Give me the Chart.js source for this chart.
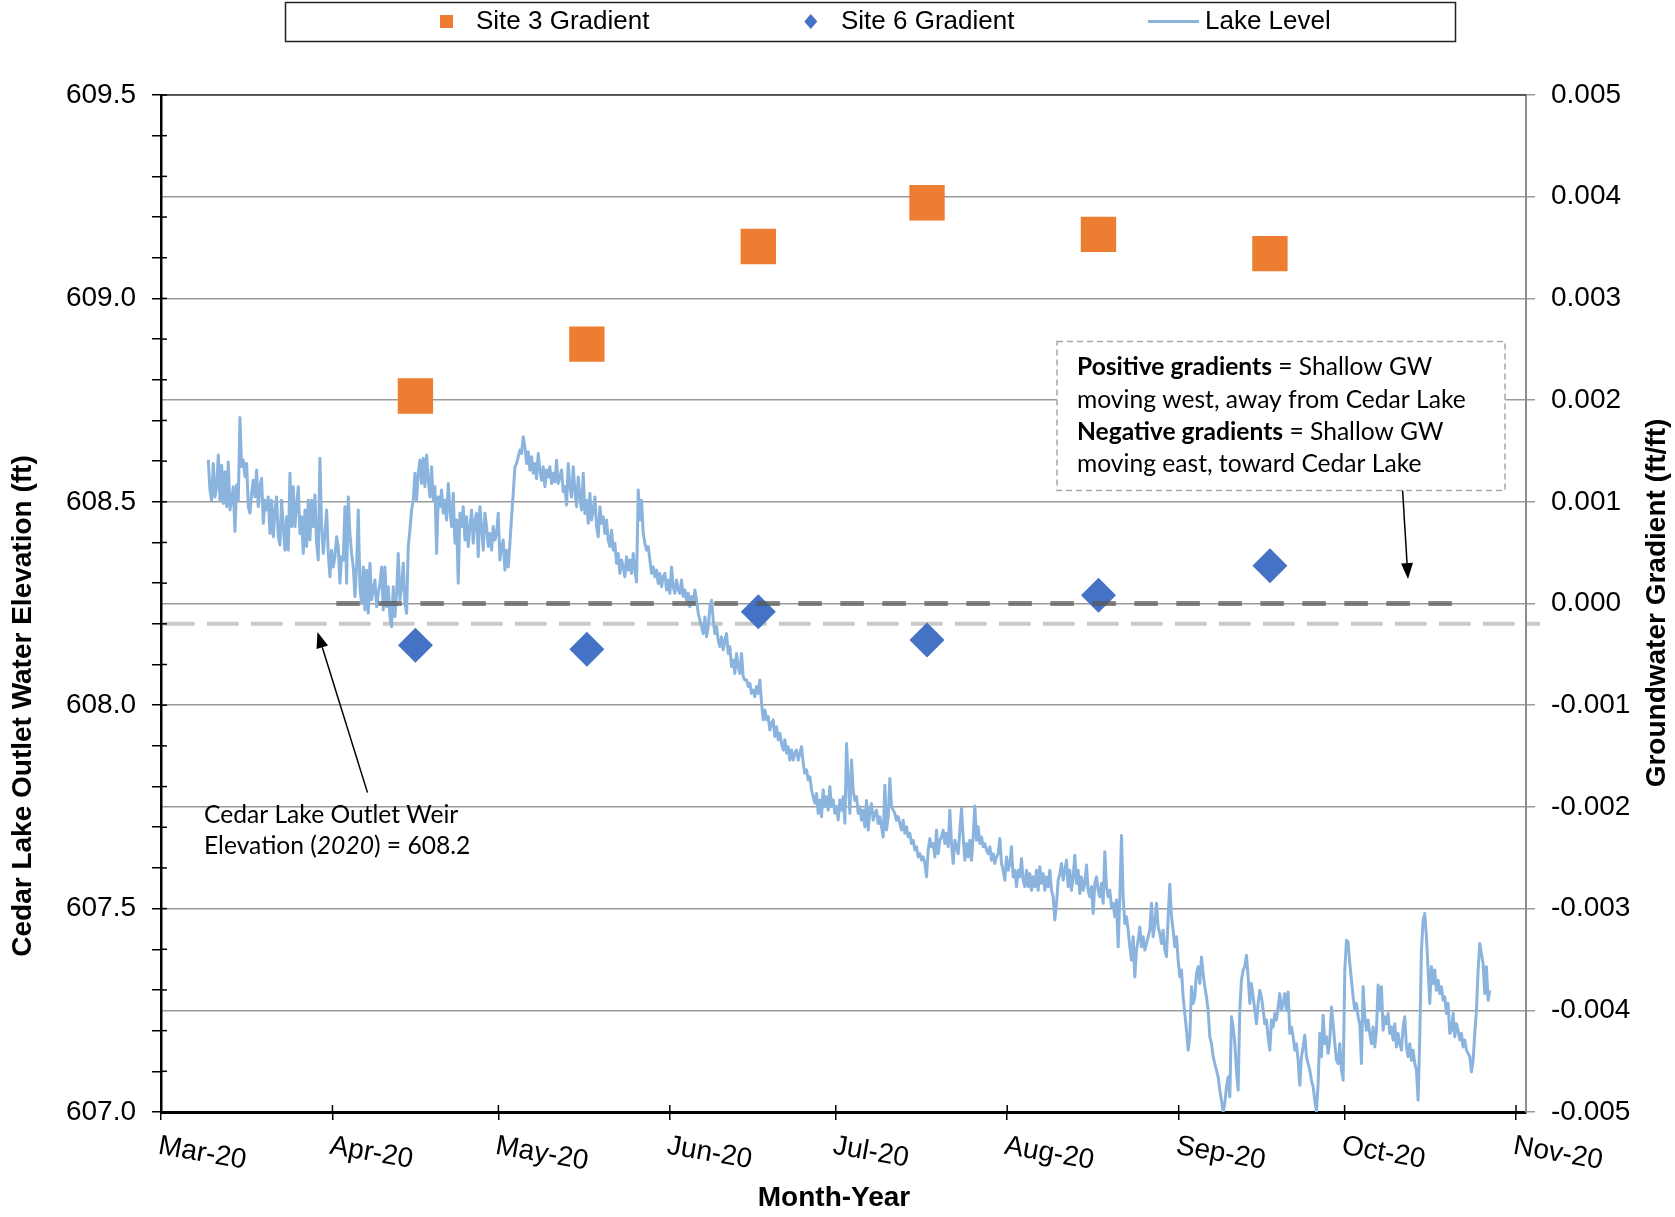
<!DOCTYPE html>
<html>
<head>
<meta charset="utf-8">
<script src="https://cdn.jsdelivr.net/npm/chart.js@4.4.1/dist/chart.umd.min.js"></script>
<style>
  html, body { margin: 0; padding: 0; background: #fff; }
  #wrap { width: 1675px; height: 1217px; }
</style>
</head>
<body>
<div id="wrap"><canvas id="chart" width="1675" height="1217"></canvas></div>
<script>
// x axis is days counted from 1 Mar 2020
const monthLabels = ['Mar-20', 'Apr-20', 'May-20', 'Jun-20', 'Jul-20', 'Aug-20', 'Sep-20', 'Oct-20', 'Nov-20'];
const monthStartDays = [0, 31, 61, 92, 122, 153, 184, 214, 245];

// monthly gradient surveys
const surveyDays = [46, 77, 108, 138.5, 169.5, 200.5];
const site3Gradient = [0.00204, 0.00255, 0.00351, 0.00394, 0.00363, 0.00344];
const site6Gradient = [-0.00041, -0.00045, -0.00008, -0.00036, 0.00008, 0.00037];

// reference lines
const weirElevation = 608.2;
const weirSpanDays = [0.35, 249.3];
const zeroGradientSpanDays = [31.7, 233.6];

// lake level logger, regular interval
const lakeStartDay = 8.55;
const lakeStepDays = 0.3013;
const lakeLevel = [
  608.603, 608.529, 608.504, 608.594, 608.512, 608.537, 608.615, 608.504, 608.590, 608.496,
  608.574, 608.488, 608.598, 608.480, 608.504, 608.537, 608.427, 608.541, 608.504, 608.707,
  608.586, 608.603, 608.562, 608.594, 608.488, 608.472, 608.521, 608.553, 608.512, 608.578,
  608.488, 608.537, 608.558, 608.447, 608.504, 608.480, 608.512, 608.422, 608.504, 608.414,
  608.480, 608.512, 608.414, 608.394, 608.504, 608.439, 608.381, 608.463, 608.381, 608.570,
  608.439, 608.537, 608.439, 608.488, 608.537, 608.422, 608.463, 608.373, 608.480, 608.390,
  608.504, 608.406, 608.504, 608.439, 608.517, 608.398, 608.357, 608.607, 608.439, 608.373,
  608.422, 608.480, 608.373, 608.316, 608.381, 608.340, 608.365, 608.414, 608.390, 608.300,
  608.365, 608.357, 608.488, 608.300, 608.512, 608.422, 608.373, 608.340, 608.267, 608.340,
  608.480, 608.291, 608.250, 608.340, 608.234, 608.332, 608.226, 608.349, 608.259, 608.283,
  608.308, 608.242, 608.275, 608.300, 608.340, 608.234, 608.340, 608.242, 608.291, 608.218,
  608.193, 608.291, 608.218, 608.275, 608.373, 608.259, 608.291, 608.349, 608.250, 608.226,
  608.390, 608.431, 608.480, 608.504, 608.570, 608.504, 608.570, 608.603, 608.545, 608.607,
  608.537, 608.615, 608.553, 608.512, 608.586, 608.504, 608.537, 608.373, 608.512, 608.488,
  608.529, 608.472, 608.504, 608.455, 608.545, 608.480, 608.439, 608.521, 608.398, 608.455,
  608.300, 608.472, 608.439, 608.488, 608.406, 608.463, 608.390, 608.439, 608.480, 608.398,
  608.455, 608.472, 608.365, 608.488, 608.439, 608.381, 608.472, 608.439, 608.390, 608.422,
  608.381, 608.439, 608.406, 608.422, 608.472, 608.357, 608.390, 608.406, 608.332, 608.381,
  608.340, 608.398, 608.463, 608.521, 608.586, 608.594, 608.611, 608.627, 608.619, 608.660,
  608.635, 608.594, 608.623, 608.578, 608.611, 608.570, 608.594, 608.557, 608.619, 608.578,
  608.553, 608.586, 608.537, 608.578, 608.561, 608.586, 608.545, 608.570, 608.549, 608.602,
  608.545, 608.561, 608.578, 608.525, 608.537, 608.492, 608.594, 608.537, 608.512, 608.586,
  608.529, 608.488, 608.561, 608.512, 608.480, 608.570, 608.471, 608.504, 608.447, 608.521,
  608.455, 608.480, 608.512, 608.439, 608.414, 608.488, 608.447, 608.463, 608.422, 608.455,
  608.406, 608.390, 608.430, 608.381, 608.398, 608.349, 608.373, 608.324, 608.357, 608.340,
  608.316, 608.365, 608.332, 608.357, 608.324, 608.373, 608.332, 608.303, 608.529, 608.455,
  608.504, 608.422, 608.398, 608.381, 608.390, 608.357, 608.324, 608.340, 608.316, 608.332,
  608.299, 608.324, 608.291, 608.316, 608.324, 608.283, 608.308, 608.275, 608.340, 608.291,
  608.275, 608.308, 608.283, 608.275, 608.308, 608.267, 608.283, 608.258, 608.275, 608.242,
  608.267, 608.250, 608.283, 608.258, 608.226, 608.209, 608.193, 608.176, 608.217, 608.168,
  608.193, 608.242, 608.258, 608.209, 608.176, 608.193, 608.160, 608.144, 608.168, 608.136,
  608.160, 608.176, 608.127, 608.144, 608.095, 608.111, 608.078, 608.127, 608.095, 608.078,
  608.127, 608.070, 608.062, 608.062, 608.046, 608.054, 608.029, 608.037, 608.021, 608.046,
  608.029, 608.062, 608.005, 607.964, 607.988, 607.964, 607.972, 607.939, 607.955, 607.964,
  607.923, 607.947, 607.915, 607.931, 607.906, 607.890, 607.915, 607.882, 607.898, 607.865,
  607.890, 607.865, 607.882, 607.890, 607.865, 607.882, 607.898, 607.857, 607.833, 607.841,
  607.816, 607.824, 607.792, 607.775, 607.759, 607.783, 607.734, 607.767, 607.726, 607.792,
  607.751, 607.775, 607.742, 607.800, 607.751, 607.767, 607.734, 607.751, 607.718, 607.767,
  607.742, 607.775, 607.710, 607.906, 607.816,
  607.734, 607.865, 607.791, 607.766, 607.775, 607.734, 607.750, 607.717, 607.742, 607.701,
  607.766, 607.693, 607.742, 607.758, 607.717, 607.734, 607.742, 607.709, 607.726, 607.701,
  607.676, 607.803, 607.693, 607.726, 607.820, 607.750, 607.742, 607.734, 607.717, 607.726,
  607.709, 607.693, 607.717, 607.685, 607.701, 607.676, 607.685, 607.660, 607.668, 607.644,
  607.652, 607.627, 607.635, 607.619, 607.627, 607.611, 607.578, 607.644, 607.672, 607.652,
  607.660, 607.627, 607.693, 607.635, 607.668, 607.676, 607.693, 607.660, 607.685, 607.652,
  607.742, 607.660, 607.611, 607.668, 607.652, 607.635, 607.693, 607.746, 607.676, 607.619,
  607.660, 607.627, 607.668, 607.619, 607.676, 607.752, 607.668, 607.701, 607.660, 607.676,
  607.652, 607.660, 607.644, 607.635, 607.652, 607.619, 607.635, 607.611, 607.627, 607.635,
  607.672, 607.611, 607.594, 607.570, 607.627, 607.594, 607.611, 607.652, 607.578, 607.594,
  607.554, 607.594, 607.578, 607.623, 607.570, 607.554, 607.594, 607.554, 607.586, 607.545,
  607.578, 607.554, 607.594, 607.545, 607.603, 607.562, 607.586, 607.545, 607.578, 607.554,
  607.594, 607.545, 607.529, 607.472, 607.513, 607.570, 607.586, 607.611, 607.570, 607.594,
  607.619, 607.554, 607.594, 607.545, 607.578, 607.631, 607.562, 607.594, 607.537, 607.578,
  607.545, 607.562, 607.607, 607.545, 607.529, 607.554, 607.488, 607.562, 607.578, 607.545,
  607.529, 607.562, 607.513, 607.640, 607.554, 607.529, 607.545, 607.504, 607.513, 607.480,
  607.521, 607.406, 607.529, 607.680, 607.529, 607.463, 607.480, 607.447, 607.406, 607.373,
  607.431, 607.332, 607.398, 607.422, 607.455, 607.406, 607.431, 607.398, 607.414, 607.431,
  607.447, 607.513, 607.431, 607.463, 607.513, 607.455, 607.439, 607.414, 607.447, 607.398,
  607.382, 607.480, 607.560, 607.480, 607.447, 607.406, 607.431, 607.373, 607.332,
  607.349, 607.283, 607.242, 607.201, 607.152, 607.185, 607.308, 607.267, 607.283, 607.340,
  607.357, 607.316, 607.381, 607.340, 607.308, 607.283, 607.250, 607.185, 607.168, 607.136,
  607.119, 607.103, 607.086, 607.054, 607.029, 607.000, 607.021, 607.062, 607.086, 607.037,
  607.234, 607.209, 607.168, 607.103, 607.054, 607.250, 607.324, 607.349, 607.357, 607.385,
  607.332, 607.267, 607.316, 607.283, 607.250, 607.217, 607.267, 607.299, 607.283, 607.250,
  607.217, 607.226, 607.185, 607.152, 607.226, 607.209, 607.242, 607.226, 607.258, 607.291,
  607.250, 607.267, 607.291, 607.250, 607.295, 607.193, 607.209, 607.185, 607.152, 607.168,
  607.127, 607.066, 607.136, 607.160, 607.189, 607.136, 607.119, 607.103, 607.078, 607.062,
  607.029, 607.000, 607.070, 607.193, 607.136, 607.238, 607.168, 607.185, 607.144, 607.177,
  607.258, 607.217, 607.168, 607.127, 607.119, 607.168, 607.103, 607.078, 607.349, 607.422,
  607.418, 607.365, 607.324, 607.283, 607.250, 607.267, 607.234, 607.217, 607.119, 607.308,
  607.234, 607.201, 607.226, 607.193, 607.168, 607.209, 607.160, 607.201, 607.312, 607.250,
  607.308, 607.201, 607.234, 607.217, 607.242, 607.193, 607.209, 607.177, 607.217, 607.160,
  607.193, 607.168, 607.152, 607.209, 607.234, 607.160, 607.136, 607.168, 607.127, 607.152,
  607.119, 607.103, 607.029, 607.185, 607.398, 607.471, 607.488, 607.430, 607.349, 607.267,
  607.357, 607.316, 607.349, 607.299, 607.324, 607.291, 607.308, 607.275, 607.283, 607.242,
  607.267, 607.193, 607.201, 607.242, 607.185, 607.217, 607.201, 607.177, 607.193, 607.160,
  607.177, 607.152, 607.144, 607.136, 607.099, 607.127, 607.193, 607.250, 607.349, 607.414,
  607.389, 607.365, 607.291, 607.357, 607.275, 607.299
];

const ORANGE = '#ED7D31';
const BLUE = '#4472C4';
const LAKE = '#8ab4de';
const FONT = "'Liberation Sans', Arial, sans-serif";
const NOTE_FONT = "Lato, 'Open Sans', sans-serif";

const lakePoints = lakeLevel.map((v, i) => ({ x: lakeStartDay + i * lakeStepDays, y: v }));

function arrow(ctx, x0, y0, x1, y1) {
  const ang = Math.atan2(y1 - y0, x1 - x0);
  const len = 16, half = 6;
  const bx = x1 - len * Math.cos(ang), by = y1 - len * Math.sin(ang);
  ctx.beginPath();
  ctx.moveTo(x0, y0);
  ctx.lineTo(bx, by);
  ctx.stroke();
  ctx.beginPath();
  ctx.moveTo(x1, y1);
  ctx.lineTo(bx + half * Math.sin(ang), by - half * Math.cos(ang));
  ctx.lineTo(bx - half * Math.sin(ang), by + half * Math.cos(ang));
  ctx.closePath();
  ctx.fill();
}

// draws a line made of [text, style] pieces
function richText(ctx, parts, x, y, size) {
  let cx = x;
  parts.forEach(([txt, style]) => {
    ctx.font = `${style} ${size}px ${NOTE_FONT}`;
    ctx.fillText(txt, cx, y);
    cx += ctx.measureText(txt).width;
  });
}

const decor = {
  id: 'decor',
  afterDraw(chart) {
    const { ctx, chartArea: a, scales: { x, y } } = chart;
    ctx.save();

    // top frame line
    ctx.strokeStyle = '#3a3a3a';
    ctx.lineWidth = 1.5;
    ctx.beginPath();
    ctx.moveTo(a.left, a.top);
    ctx.lineTo(a.right, a.top);
    ctx.stroke();

    // tick marks crossing into the plot
    ctx.strokeStyle = '#000';
    y.ticks.forEach(t => {
      const py = y.getPixelForValue(t.value);
      ctx.beginPath();
      ctx.moveTo(a.left, py);
      ctx.lineTo(a.left + 6, py);
      ctx.stroke();
    });
    x.ticks.forEach(t => {
      const px = x.getPixelForValue(t.value);
      ctx.beginPath();
      ctx.moveTo(px, a.bottom - 7);
      ctx.lineTo(px, a.bottom);
      ctx.stroke();
    });

    // slanted month labels
    ctx.fillStyle = '#000';
    ctx.font = `28px ${FONT}`;
    ctx.textAlign = 'left';
    ctx.textBaseline = 'top';
    monthStartDays.forEach((d, i) => {
      const px = x.getPixelForValue(d);
      ctx.save();
      ctx.translate(px, a.bottom + 20);
      ctx.rotate(10 * Math.PI / 180);
      ctx.fillText(monthLabels[i], 0, 0);
      ctx.restore();
    });

    // axis titles
    ctx.font = `bold 28px ${FONT}`;
    ctx.textAlign = 'center';
    ctx.textBaseline = 'middle';
    ctx.fillText('Month-Year', 834, 1198);
    ctx.save();
    ctx.translate(23.5, 706);
    ctx.rotate(-Math.PI / 2);
    ctx.fillText('Cedar Lake Outlet Water Elevation (ft)', 0, 0);
    ctx.restore();
    ctx.save();
    ctx.translate(1657, 603);
    ctx.rotate(-Math.PI / 2);
    ctx.fillText('Groundwater Gradient (ft/ft)', 0, 0);
    ctx.restore();

    // legend
    ctx.strokeStyle = '#222';
    ctx.lineWidth = 1.5;
    ctx.strokeRect(285.5, 2.5, 1170, 39);
    ctx.fillStyle = ORANGE;
    ctx.fillRect(440, 15, 13, 13);
    ctx.fillStyle = BLUE;
    ctx.beginPath();
    ctx.moveTo(804.3, 21.5);
    ctx.lineTo(810.8, 14);
    ctx.lineTo(817.3, 21.5);
    ctx.lineTo(810.8, 29);
    ctx.closePath();
    ctx.fill();
    ctx.strokeStyle = LAKE;
    ctx.lineWidth = 3;
    ctx.beginPath();
    ctx.moveTo(1148, 21.5);
    ctx.lineTo(1199, 21.5);
    ctx.stroke();
    ctx.fillStyle = '#000';
    ctx.font = `26px ${FONT}`;
    ctx.textAlign = 'left';
    ctx.fillText('Site 3 Gradient', 476, 22);
    ctx.fillText('Site 6 Gradient', 841, 22);
    ctx.fillText('Lake Level', 1205, 22);

    // note box
    ctx.font = `100px ${NOTE_FONT}`;
    const fs = 100 * 389 / ctx.measureText('moving west, away from Cedar Lake').width;
    ctx.fillStyle = '#fff';
    ctx.fillRect(1057, 341, 448, 149);
    ctx.setLineDash([6, 4]);
    ctx.strokeStyle = '#a6a6a6';
    ctx.lineWidth = 1.5;
    ctx.strokeRect(1057, 341.5, 448, 149);
    ctx.setLineDash([]);
    ctx.fillStyle = '#000';
    ctx.textBaseline = 'middle';
    richText(ctx, [['Positive gradients', 'bold'], [' = Shallow GW', 'normal']], 1077, 367.5, fs);
    richText(ctx, [['moving west, away from Cedar Lake', 'normal']], 1077, 400, fs);
    richText(ctx, [['Negative gradients', 'bold'], [' = Shallow GW', 'normal']], 1077, 432.5, fs);
    richText(ctx, [['moving east, toward Cedar Lake', 'normal']], 1077, 464.5, fs);

    // weir note
    richText(ctx, [['Cedar Lake Outlet Weir', 'normal']], 204, 815.5, fs);
    richText(ctx, [['Elevation (', 'normal'], ['2020', 'italic'], [') = 608.2', 'normal']], 204, 846.5, fs);

    // arrows
    ctx.strokeStyle = '#000';
    ctx.fillStyle = '#000';
    ctx.lineWidth = 1.5;
    arrow(ctx, 367.5, 792.6, 317.5, 632);
    arrow(ctx, 1402.6, 490.5, 1408, 579);

    ctx.restore();
  }
};

const ctx = document.getElementById('chart').getContext('2d');
new Chart(ctx, {
  type: 'scatter',
  data: {
    datasets: [
      {
        label: 'Zero gradient',
        data: zeroGradientSpanDays.map(d => ({ x: d, y: 0 })),
        yAxisID: 'y1',
        showLine: true,
        borderColor: 'rgba(85,85,85,0.7)',
        borderWidth: 5,
        borderDash: [23.5, 18.5],
        pointRadius: 0,
        order: 1
      },
      {
        label: 'Site 3 Gradient',
        data: surveyDays.map((d, i) => ({ x: d, y: site3Gradient[i] })),
        yAxisID: 'y1',
        pointStyle: 'rect',
        pointRadius: 25,
        backgroundColor: ORANGE,
        borderColor: ORANGE,
        borderWidth: 0,
        order: 2
      },
      {
        label: 'Site 6 Gradient',
        data: surveyDays.map((d, i) => ({ x: d, y: site6Gradient[i] })),
        yAxisID: 'y1',
        pointStyle: 'rectRot',
        pointRadius: 17.5,
        backgroundColor: BLUE,
        borderColor: BLUE,
        borderWidth: 0,
        order: 2
      },
      {
        label: 'Lake Level',
        data: lakePoints,
        yAxisID: 'y',
        showLine: true,
        borderColor: LAKE,
        borderWidth: 3,
        borderJoinStyle: 'round',
        pointRadius: 0,
        order: 3
      },
      {
        label: 'Weir',
        data: weirSpanDays.map(d => ({ x: d, y: weirElevation })),
        yAxisID: 'y',
        showLine: true,
        borderColor: '#c9c9c9',
        borderWidth: 4,
        borderDash: [31.7, 12.3],
        pointRadius: 0,
        clip: false,
        order: 4
      }
    ]
  },
  options: {
    responsive: false,
    animation: false,
    devicePixelRatio: 1,
    events: [],
    layout: { padding: { top: 95, left: 0, right: 0, bottom: 0 } },
    plugins: { legend: { display: false }, tooltip: { enabled: false } },
    scales: {
      x: {
        type: 'linear',
        min: 0,
        max: 246.8,
        afterBuildTicks: s => { s.ticks = monthStartDays.map(v => ({ value: v })); },
        afterFit: s => { s.height = 105; },
        ticks: { display: false },
        grid: { drawOnChartArea: false, tickLength: 8, color: '#000', lineWidth: 1.5 },
        border: { color: '#000', width: 3 }
      },
      y: {
        position: 'left',
        min: 607,
        max: 609.5,
        afterBuildTicks: s => {
          const t = [];
          for (let i = 0; i <= 25; i++) t.push({ value: 607 + i * 0.1 });
          s.ticks = t;
        },
        afterFit: s => { s.width = 161; },
        ticks: {
          autoSkip: false,
          padding: 16,
          color: '#000',
          font: { family: FONT, size: 28 },
          callback: v => Math.abs(v * 2 - Math.round(v * 2)) < 1e-6 ? v.toFixed(1) : ''
        },
        grid: { drawOnChartArea: false, tickLength: 9, color: '#000', lineWidth: 1.5 },
        border: { color: '#000', width: 2.5 }
      },
      y1: {
        position: 'right',
        min: -0.005,
        max: 0.005,
        afterFit: s => { s.width = 149; },
        ticks: {
          stepSize: 0.001,
          padding: 16,
          color: '#000',
          font: { family: FONT, size: 28 },
          callback: v => (Math.abs(v) < 1e-9 ? 0 : v).toFixed(3)
        },
        grid: { color: '#9a9a9a', lineWidth: 1.5, tickLength: 9 },
        border: { color: '#8c8c8c', width: 2 }
      }
    }
  },
  plugins: [decor]
});
</script>
</body>
</html>
